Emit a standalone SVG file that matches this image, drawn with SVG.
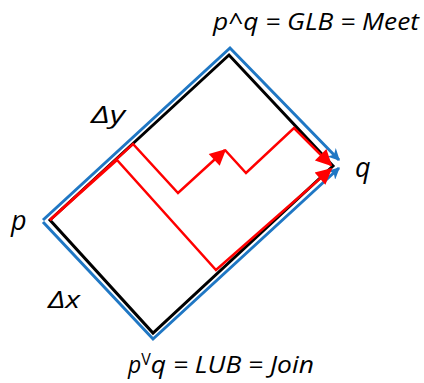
<svg xmlns="http://www.w3.org/2000/svg" width="424" height="383" viewBox="0 0 424 383">
<style>
text{font-family:"Open Sans","Liberation Sans",sans-serif;font-style:italic;font-size:23px;fill:#000}
.big{font-size:27px}
.delta{font-size:24px}
.sup{font-size:16px;font-style:normal}
.blue{fill:none;stroke:#1f77c4;stroke-width:3}
.black{fill:none;stroke:#000;stroke-width:3}
.red{fill:none;stroke:#ff0000;stroke-width:2.5}
</style>
<defs>
<marker id="ar" viewBox="0 0 10 10" refX="9" refY="5" markerWidth="7.5" markerHeight="6.5" markerUnits="strokeWidth" orient="auto"><path d="M0,0 L10,5 L0,10 Z" fill="#ff0000"/></marker>
<marker id="ab" viewBox="0 0 10 10" refX="9" refY="5" markerWidth="4" markerHeight="4" markerUnits="strokeWidth" orient="auto"><path d="M0,0 L10,5 L0,10 L3,5 Z" fill="#1f77c4"/></marker>
</defs>
<g id="connectors">
<path class="blue" d="M43,220 L230,48 L339,160" marker-end="url(#ab)"/>
<path class="blue" d="M43,222 L153,339 L339,168" marker-end="url(#ab)"/>
<path class="black" d="M50,220 L229,55 L333,166 L153,333 Z"/>
<path class="red" d="M50,220 L133,144 L178,193 L225,150" marker-end="url(#ar)"/>
<path class="red" d="M225,150 L246,173 L294,128 L331,165" marker-end="url(#ar)"/>
<path class="red" d="M50,220 L117,160 L216,270 L331,169" marker-end="url(#ar)"/>
</g>
<g id="label-meet"><text x="213" y="30" textLength="206" lengthAdjust="spacingAndGlyphs">p^q = GLB = Meet</text></g>
<g id="label-dy"><text class="delta" x="91" y="123" textLength="34" lengthAdjust="spacingAndGlyphs">Δy</text></g>
<g id="label-q"><text class="big" x="355" y="177">q</text></g>
<g id="label-p"><text class="big" x="11" y="230">p</text></g>
<g id="label-dx"><text class="delta" x="48" y="308" textLength="32" lengthAdjust="spacingAndGlyphs">Δx</text></g>
<g id="label-join"><text x="128" y="373">p<tspan class="sup" dy="-8">V</tspan><tspan dy="8" textLength="163" lengthAdjust="spacingAndGlyphs">q = LUB = Join</tspan></text></g>
</svg>
